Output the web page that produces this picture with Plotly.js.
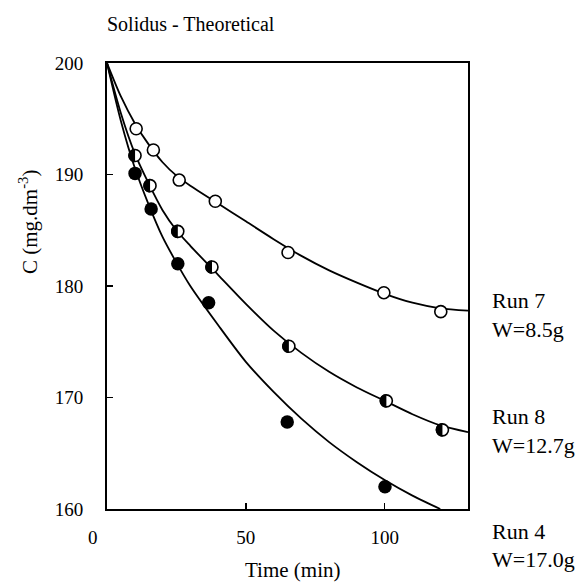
<!DOCTYPE html>
<html>
<head>
<meta charset="utf-8">
<script src="https://cdn.plot.ly/plotly-3.0.1.min.js"></script>
<style>html,body{margin:0;padding:0;background:#fff;}#chart{width:579px;height:584px;}</style>
</head>
<body>
<div id="chart"></div>
<script>
// ---- data ----
const run7T = [10.5, 16.7, 26.0, 39.0, 65.2, 99.7, 120.2];
const run7C = [194.1, 192.2, 189.5, 187.6, 183.0, 179.4, 177.7];
const run8T = [10.1, 15.5, 25.5, 37.8, 65.5, 100.6, 120.8];
const run8C = [191.7, 189.0, 184.9, 181.7, 174.6, 169.7, 167.1];
const run4T = [10.1, 15.9, 25.5, 36.6, 64.9, 100.1];
const run4C = [190.1, 186.9, 182.0, 178.5, 167.8, 162.0];

const curveT  = [0, 5, 10, 15, 20, 25, 30, 40, 50, 60, 70, 80, 90, 100, 110, 120, 130];
const curve7C = [200, 197.0, 194.6, 192.7, 191.1, 189.9, 189.0, 187.4, 185.8, 184.2, 182.7, 181.4, 180.3, 179.3, 178.5, 178.0, 177.8];
const curve8C = [200, 195.5, 191.9, 189.2, 186.8, 185.0, 183.6, 181.0, 178.4, 176.0, 174.0, 172.3, 170.9, 169.7, 168.5, 167.5, 166.9];
const curve4T = [0, 5, 10, 15, 20, 25, 30, 40, 50, 60, 70, 80, 90, 100, 110, 120];
const curve4C = [200, 194.8, 190.6, 187.3, 184.4, 182.1, 180.0, 176.5, 173.2, 170.5, 168.1, 166.0, 164.2, 162.6, 161.2, 160.0];

const xTickVals = [0, 50, 100];
const xTickText = ["0\u00a0\u00a0\u00a0\u00a0\u00a0\u00a0", "50", "100"];
const yTickVals = [160, 170, 180, 190, 200];
const yTickText = ["160", "170", "180", "190", "200"];

const runNames  = ["Run 7", "Run 8", "Run 4"];
const runMasses = ["W=8.5g", "W=12.7g", "W=17.0g"];
const chartTitle = "Solidus - Theoretical";
const xTitle = "Time (min)";
const yTitle = "C (mg.dm<sup>-3</sup>)";

// ---- drawing ----
const FONT = "'Liberation Serif', 'Times New Roman', Times, serif";
const mkFont = (s) => ({family: FONT, size: s, color: "#000"});
const lineStyle = () => ({color: "#000", width: 1.8, shape: "spline", smoothing: 0.8});

const traces = [
  {x: curveT, y: curve7C, mode: "lines", line: lineStyle(), hoverinfo: "skip"},
  {x: curveT, y: curve8C, mode: "lines", line: lineStyle(), hoverinfo: "skip"},
  {x: curve4T, y: curve4C, mode: "lines", line: lineStyle(), hoverinfo: "skip"},
  {x: run7T, y: run7C, mode: "markers",
   marker: {symbol: "circle", size: 12, color: "#fff", line: {color: "#000", width: 1.6}}},
  {x: run8T, y: run8C, mode: "markers",
   marker: {symbol: "circle", size: 12, color: "#fff", line: {color: "#000", width: 1.6}}},
  {x: run4T, y: run4C, mode: "markers",
   marker: {symbol: "circle", size: 13.5, color: "#000", line: {width: 0}}}
];

// left half filled for Run 8 markers (pixel-sized shapes anchored at data points)
const r = 6.8, k = 0.5523 * r;
const halfPath = `M0,${-r} C${-k},${-r} ${-r},${-k} ${-r},0 C${-r},${k} ${-k},${r} 0,${r} Z`;
const shapes = run8T.map((t, i) => ({
  type: "path", xref: "x", yref: "y",
  xsizemode: "pixel", ysizemode: "pixel",
  xanchor: t, yanchor: run8C[i],
  path: halfPath, fillcolor: "#000", line: {width: 0}, layer: "above"
}));

const L = 107, R = 468, T = 63, B = 509;
const px = v => (v - L) / (R - L);
const py = v => (B - v) / (B - T);

const annotations = [
  {text: chartTitle, xref: "paper", yref: "paper", x: px(105), y: py(24), xanchor: "left", yanchor: "middle", showarrow: false, font: mkFont(20)},
  {text: yTitle, xref: "paper", yref: "paper", x: px(28), y: py(222), xanchor: "center", yanchor: "middle", textangle: -90, showarrow: false, font: mkFont(21)},
  {text: xTitle, xref: "paper", yref: "paper", x: px(292), y: py(570), xanchor: "center", yanchor: "middle", showarrow: false, font: mkFont(21)}
];
const nameY = [300.7, 416.7, 531.7];
const massY = [329, 445, 559];
runNames.forEach((n, i) => {
  annotations.push({text: n, xref: "paper", yref: "paper", x: px(490), y: py(nameY[i]), xanchor: "left", yanchor: "middle", showarrow: false, font: mkFont(22)});
  annotations.push({text: runMasses[i], xref: "paper", yref: "paper", x: px(490), y: py(massY[i]), xanchor: "left", yanchor: "middle", showarrow: false, font: mkFont(22)});
});

const layout = {
  width: 579, height: 584,
  margin: {l: L, r: 579 - R, t: T, b: 584 - B, pad: 0},
  paper_bgcolor: "#fff", plot_bgcolor: "#fff",
  showlegend: false,
  font: mkFont(19),
  xaxis: {
    range: [0, 130], showgrid: false, zeroline: false,
    showline: true, mirror: true, linecolor: "#000", linewidth: 2,
    ticks: "inside", ticklen: 6, tickwidth: 1.5, tickcolor: "#000",
    tickmode: "array", tickvals: xTickVals, ticktext: xTickText,
    ticklabelstandoff: 10, tickfont: mkFont(19)
  },
  yaxis: {
    range: [160, 200], showgrid: false, zeroline: false,
    showline: true, mirror: true, linecolor: "#000", linewidth: 2,
    ticks: "inside", ticklen: 6, tickwidth: 1.5, tickcolor: "#000",
    tickmode: "array", tickvals: yTickVals, ticktext: yTickText,
    ticklabelstandoff: 18, tickfont: mkFont(19)
  },
  shapes: shapes,
  annotations: annotations
};

Plotly.newPlot("chart", traces, layout, {staticPlot: true, displayModeBar: false});
</script>
</body>
</html>
